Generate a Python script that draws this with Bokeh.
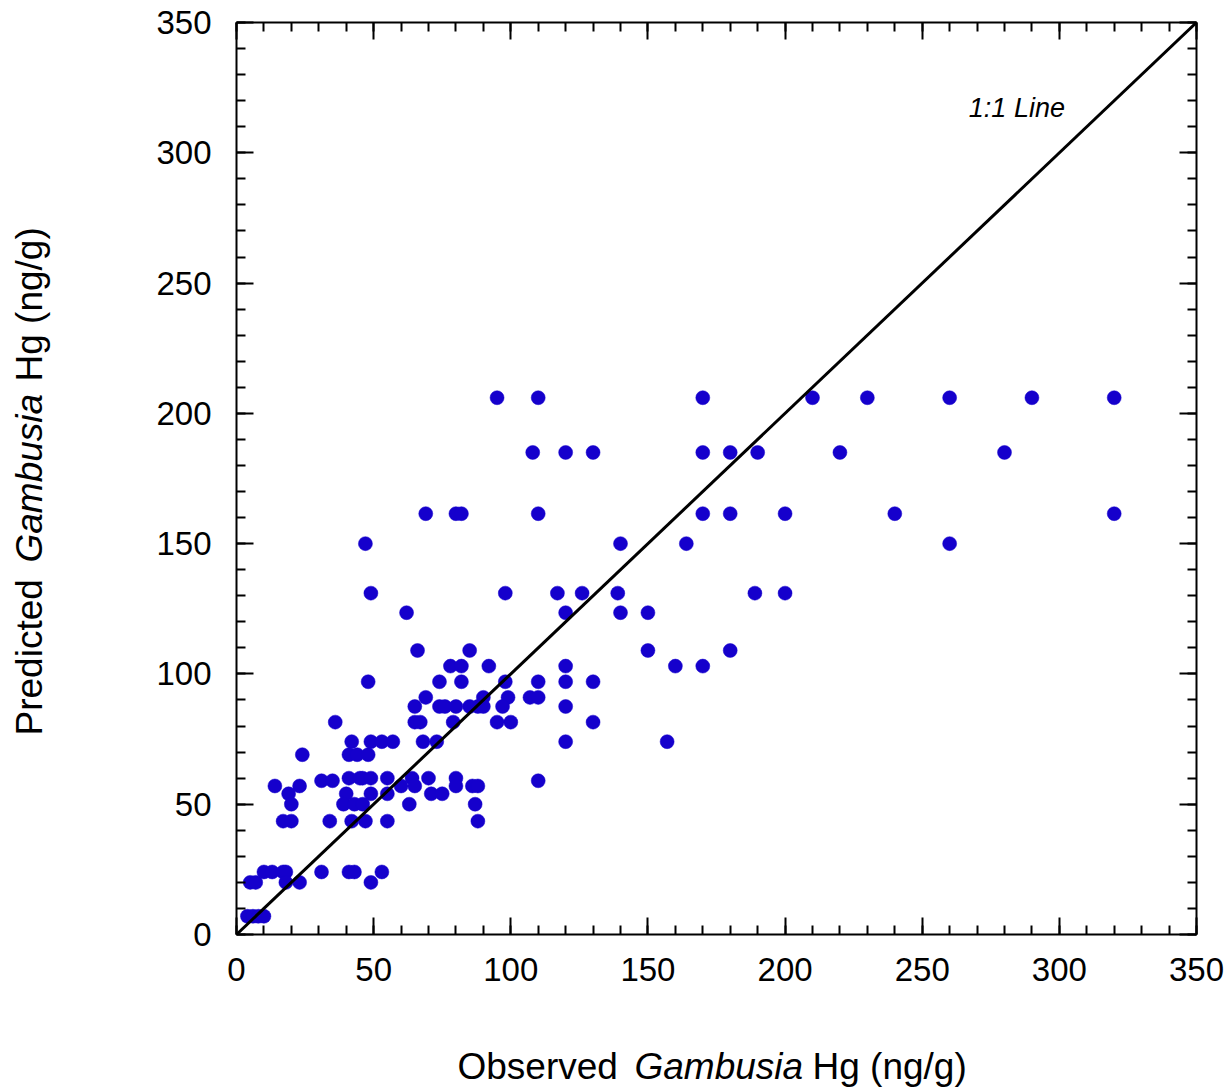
import math
from bokeh.plotting import figure
from bokeh.layouts import row, column
from bokeh.models import (Range1d, LinearAxis, SingleIntervalTicker, Slope, Label,
                          CustomJSTickFormatter)
from bokeh.embed import file_html
from bokeh.resources import INLINE

# ---- data, grouped by predicted level ----
observed = [
    95, 110, 170, 210, 230, 260, 290, 320,
    108, 120, 130, 170, 180, 190, 220, 280,
    69, 80, 82, 110, 170, 180, 200, 240, 320,
    47, 140, 164, 260,
    49, 98, 117, 126, 139, 189, 200,
    62, 120, 140, 150,
    66, 85, 150, 180,
    78, 82, 92, 120, 160, 170,
    48, 74, 82, 98, 110, 120, 130,
    69, 90, 99, 107, 110,
    65, 74, 76, 80, 85, 88, 90, 97, 120,
    36, 65, 67, 79, 95, 100, 130,
    42, 49, 53, 57, 68, 73, 120, 157,
    24, 41, 44, 48,
    41, 45, 46, 49, 55, 64, 70, 80,
    31, 35, 110,
    14, 23, 60, 65, 80, 86, 88,
    19, 40, 49, 55, 71, 75,
    20, 39, 43, 46, 63, 87,
    17, 20, 34, 42, 47, 55, 88,
    10, 13, 17, 18, 31, 41, 43, 53,
    5, 7, 18, 23, 49,
    4, 6, 8, 10,
]
predicted = (
    [206] * 8 + [185] * 8 + [161.5] * 9 + [150] * 4 + [131] * 7 + [123.5] * 4 +
    [109] * 4 + [103] * 6 + [97] * 7 + [91] * 5 + [87.5] * 9 + [81.5] * 7 +
    [74] * 8 + [69] * 4 + [60] * 8 + [59] * 3 + [57] * 7 + [54] * 6 +
    [50] * 6 + [43.5] * 7 + [24] * 8 + [20] * 5 + [7] * 4
)

axis_min, axis_max = 0, 350
x_title = ["Observed", "Gambusia", "Hg (ng/g)"]
y_title = ["Predicted", "Gambusia", "Hg (ng/g)"]
title_styles = ["normal", "italic", "normal"]
line_label = "1:1 Line"

FONT = "Liberation Sans"
TOTAL_W, TOTAL_H = 1229, 1091
YT_W = 80          # width of the strip holding the y title
ROW_H = 1005       # height of the main row
XT_H = TOTAL_H - ROW_H
FRAME_TOP, FRAME_BOTTOM = 22, 934   # page rows of the plot frame

p = figure(width=TOTAL_W - YT_W, height=ROW_H,
           x_range=Range1d(axis_min, axis_max), y_range=Range1d(axis_min, axis_max),
           output_backend="svg", toolbar_location=None,
           min_border_left=236 - YT_W, min_border_right=33,
           min_border_top=FRAME_TOP, min_border_bottom=ROW_H - FRAME_BOTTOM)
p.grid.visible = False
p.outline_line_color = None
p.background_fill_color = "white"
p.border_fill_color = "white"


def style_axis(ax, labels=True):
    ax.ticker = SingleIntervalTicker(interval=50, num_minor_ticks=5)
    ax.axis_line_color = "black"
    ax.axis_line_width = 2
    ax.major_tick_line_color = "black"
    ax.major_tick_line_width = 2
    ax.minor_tick_line_color = "black"
    ax.minor_tick_line_width = 2
    ax.major_tick_in = 17
    ax.major_tick_out = 0
    ax.minor_tick_in = 9
    ax.minor_tick_out = 0
    if labels:
        ax.major_label_text_font = FONT
        ax.major_label_text_font_size = "33px"
        ax.major_label_text_color = "black"
    else:
        ax.formatter = CustomJSTickFormatter(code="return ''")
        ax.major_label_text_font_size = "1px"
        ax.major_label_standoff = 0


for ax in p.xaxis:
    style_axis(ax)
    ax.major_label_standoff = 23
for ax in p.yaxis:
    style_axis(ax)
    ax.major_label_standoff = 25

top_axis = LinearAxis()
style_axis(top_axis, labels=False)
p.add_layout(top_axis, "above")
right_axis = LinearAxis()
style_axis(right_axis, labels=False)
p.add_layout(right_axis, "right")

p.scatter(observed, predicted, size=14, marker="circle",
          fill_color="#1500CC", line_color="#1500CC", line_width=0.5)

p.add_layout(Slope(gradient=1, y_intercept=0, line_color="black", line_width=3))

p.add_layout(Label(x=267, y=317, text=line_label, text_font=FONT,
                   text_font_style="italic", text_font_size="27px",
                   text_color="black", text_baseline="alphabetic"))


def text_strip(w, h, y_range):
    f = figure(width=w, height=h, x_range=Range1d(0, w), y_range=y_range,
               x_axis_type=None, y_axis_type=None, output_backend="svg",
               toolbar_location=None, min_border=0)
    f.outline_line_color = None
    f.grid.visible = False
    f.background_fill_color = "white"
    f.border_fill_color = "white"
    return f


# y-axis title strip (rotated, mixed italic); its frame lines up with the plot frame
yfig = text_strip(YT_W, ROW_H, Range1d(ROW_H - FRAME_BOTTOM, ROW_H - FRAME_TOP))
for txt, page_y, style in zip(y_title, [735, 562, 381], title_styles):
    yfig.add_layout(Label(x=29, y=ROW_H - page_y, text=txt, angle=math.pi / 2,
                          text_font=FONT, text_font_size="37px", text_font_style=style,
                          text_color="black", text_baseline="alphabetic",
                          text_align="left"))

# x-axis title strip (mixed italic)
xfig = text_strip(TOTAL_W, XT_H, Range1d(0, XT_H))
for txt, page_x, style in zip(x_title, [457, 634, 812], title_styles):
    xfig.add_layout(Label(x=page_x, y=25, text=txt,
                          text_font=FONT, text_font_size="37px", text_font_style=style,
                          text_color="black", text_baseline="alphabetic",
                          text_align="left"))

layout = column(row(yfig, p, spacing=0), xfig, spacing=0)

open("out.html", "w").write(file_html(layout, INLINE))
